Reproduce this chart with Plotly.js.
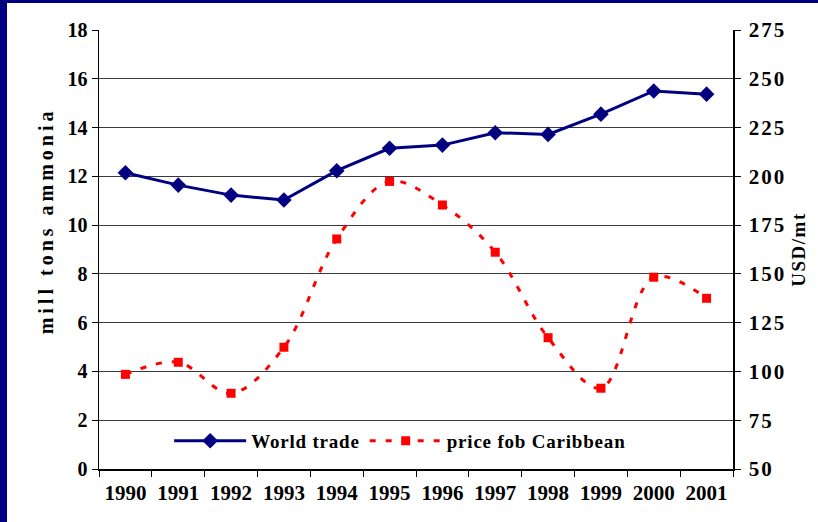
<!DOCTYPE html>
<html>
<head>
<meta charset="utf-8">
<script src="https://cdn.plot.ly/plotly-3.0.1.min.js"></script>
<style>
  html, body { margin: 0; padding: 0; background: #000080; width: 818px; height: 522px; overflow: hidden; }
  #chart { position: absolute; left: 7px; top: 3px; width: 811px; height: 519px; background: #fff; }
  .annotation-text { letter-spacing: 4px; }
  .y2title { letter-spacing: 1.5px; }
  .y2tick text { letter-spacing: 2px; }
  .legendtext { letter-spacing: 0.8px; }
</style>
</head>
<body>
<div id="chart"></div>
<script>
const years = ['1990','1991','1992','1993','1994','1995','1996','1997','1998','1999','2000','2001'];
const worldTrade = [12.15, 11.64, 11.23, 11.03, 12.23, 13.15, 13.28, 13.79, 13.72, 14.55, 15.50, 15.37];
const priceFob = [98.5, 104.7, 88.8, 112.4, 167.9, 197.4, 185.3, 161.1, 117.3, 91.4, 148.3, 137.5];
const leftTicks = [0, 2, 4, 6, 8, 10, 12, 14, 16, 18];
const rightTicks = [50, 75, 100, 125, 150, 175, 200, 225, 250, 275];

const font = '"Liberation Serif", "Times New Roman", serif';

const traces = [
  {
    x: years, y: worldTrade, name: '<b>World trade</b>', type: 'scatter', mode: 'lines+markers',
    line: { color: '#000080', width: 3 },
    marker: { symbol: 'diamond', size: 12, color: '#000080' },
    yaxis: 'y'
  },
  {
    x: years, y: priceFob, name: '<b>price fob Caribbean</b>', type: 'scatter', mode: 'lines+markers',
    line: { color: '#ff0000', width: 3, dash: '6px,10px', shape: 'spline', smoothing: 1 },
    marker: { symbol: 'square', size: 9, color: '#ff0000' },
    yaxis: 'y2'
  }
];

const layout = {
  width: 811, height: 519,
  margin: { l: 92, r: 85, t: 27, b: 53 },
  paper_bgcolor: '#ffffff', plot_bgcolor: '#ffffff',
  font: { family: font, size: 18, color: '#000' },
  showlegend: true,
  legend: {
    orientation: 'h', x: 0.475, xanchor: 'center', y: 0.064, yanchor: 'middle',
    bgcolor: 'rgba(255,255,255,0)', borderwidth: 0,
    font: { family: font, size: 19, color: '#000' },
    itemwidth: 72, tracegroupgap: 0
  },
  annotations: [
    {
      text: '<b>mill tons ammonia</b>', textangle: -90, showarrow: false,
      xref: 'paper', yref: 'paper', x: -0.083, y: 0.565, xanchor: 'center', yanchor: 'middle',
      font: { family: font, size: 20, color: '#000' }
    }
  ],
  xaxis: {
    type: 'category', range: [-0.5, 11.5], tickangle: 0,
    tickson: 'boundaries', ticks: 'outside', ticklen: 6, tickwidth: 1, tickcolor: '#000',
    showline: true, linecolor: '#000', linewidth: 1.5, showgrid: false, zeroline: false,
    tickfont: { family: font, size: 21, color: '#000' },
    ticklabelstandoff: 4,
    tickvals: years, ticktext: years.map(y => '<b>' + y + '</b>')
  },
  yaxis: {
    range: [0, 18], tickvals: leftTicks, ticktext: leftTicks.map(v => '<b>' + v + '</b>'),
    ticks: 'outside', ticklen: 6, tickcolor: '#000', tickwidth: 1,
    showline: true, linecolor: '#000', linewidth: 1.5,
    showgrid: true, gridcolor: '#3a3a3a', gridwidth: 1, zeroline: false,
    tickfont: { family: font, size: 20, color: '#000' }
  },
  yaxis2: {
    overlaying: 'y', side: 'right',
    range: [50, 275], tickvals: rightTicks, ticktext: rightTicks.map(v => '<b>' + v + '</b>'),
    ticks: 'outside', ticklen: 6, tickcolor: '#000', tickwidth: 1,
    showline: true, linecolor: '#000', linewidth: 1.5,
    showgrid: false, zeroline: false,
    tickfont: { family: font, size: 21, color: '#000' },
    ticklabelstandoff: 4,
    title: { text: '<b>USD/mt</b>', font: { family: font, size: 19, color: '#000' }, standoff: 6 }
  }
};

Plotly.newPlot('chart', traces, layout, { displayModeBar: false, staticPlot: true });
</script>
</body>
</html>
